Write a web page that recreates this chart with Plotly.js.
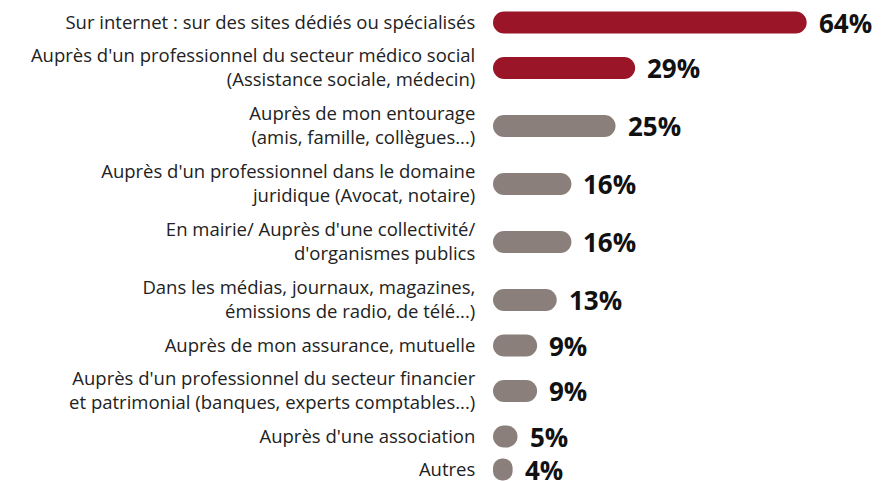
<!DOCTYPE html>
<html>
<head>
<meta charset="utf-8">
<script src="https://cdn.plot.ly/plotly-3.0.1.min.js"></script>
<style>html,body{margin:0;padding:0;background:#fff;}#chart{width:890px;height:481px;}</style>
</head>
<body>
<div id="chart"></div>
<script>
const categories = [
  "Sur internet : sur des sites dédiés ou spécialisés",
  "Auprès d'un professionnel du secteur médico social<br>(Assistance sociale, médecin)",
  "Auprès de mon entourage<br>(amis, famille, collègues...)",
  "Auprès d'un professionnel dans le domaine<br>juridique (Avocat, notaire)",
  "En mairie/ Auprès d'une collectivité/<br>d'organismes publics",
  "Dans les médias, journaux, magazines,<br>émissions de radio, de télé...)",
  "Auprès de mon assurance, mutuelle",
  "Auprès d'un professionnel du secteur financier<br>et patrimonial (banques, experts comptables...)",
  "Auprès d'une association",
  "Autres"
];
const values = [64, 29, 25, 16, 16, 13, 9, 9, 5, 4];
const highlighted = [true, true, false, false, false, false, false, false, false, false];

const RED = "#9b1528";
const GRAY = "#8a7f7b";

// Row positions derived from the number of lines of each label (layout spacing)
const lineCount = categories.map(c => c.split("<br>").length);
const rowPos = [];
lineCount.forEach((n, i) => {
  rowPos.push(i === 0 ? 0 : rowPos[i - 1] + 8 + 12.5 * (lineCount[i - 1] + n));
});

const colors = highlighted.map(h => h ? RED : GRAY);

// Floating bars (explicit base) get both ends rounded
const bars = {
  type: "bar", orientation: "h",
  y: rowPos,
  base: values.map(() => 0),
  x: values,
  width: 22,
  marker: {color: colors, cornerradius: "50%", line: {width: 0}},
  hoverinfo: "skip", showlegend: false
};

const annotations = values.map((v, i) => ({
  x: v, y: rowPos[i], xref: "x", yref: "y",
  text: "<b>" + v + "%</b>",
  xanchor: "left", yanchor: "middle",
  xshift: 10, showarrow: false,
  font: {family: "Open Sans, sans-serif", size: 26, color: "#111"}
}));

const layout = {
  width: 890, height: 481,
  margin: {l: 493, r: 0, t: 0, b: 0, pad: 0},
  paper_bgcolor: "#fff", plot_bgcolor: "#fff",
  font: {family: "Open Sans, sans-serif", size: 18.5, color: "#222"},
  xaxis: {range: [0, 81], visible: false, fixedrange: true},
  yaxis: {
    range: [458.5, -22.5],
    tickvals: rowPos, ticktext: categories,
    showgrid: false, zeroline: false, showline: false,
    ticks: "outside", ticklen: 13, tickcolor: "rgba(0,0,0,0)",
    tickfont: {family: "Open Sans, sans-serif", size: 18.5, color: "#222"},
    automargin: false
  },
  annotations: annotations,
  showlegend: false
};

Plotly.newPlot("chart", [bars], layout, {displayModeBar: false, staticPlot: true});
</script>
</body>
</html>
